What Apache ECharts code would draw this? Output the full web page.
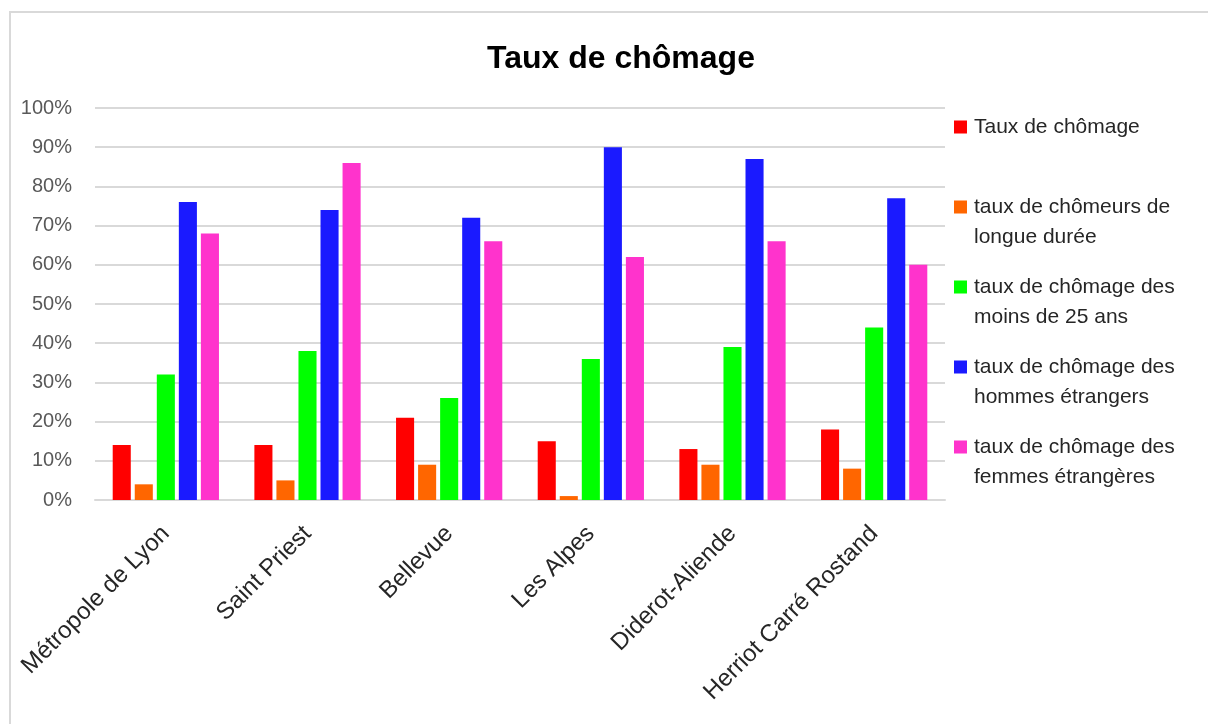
<!DOCTYPE html>
<html>
<head>
<meta charset="utf-8">
<script src="https://cdn.jsdelivr.net/npm/echarts@6/dist/echarts.min.js"></script>
<style>
html,body{margin:0;padding:0;width:1208px;height:724px;overflow:hidden;background:#fff;}
#frame{position:absolute;left:9px;top:11px;width:1400px;height:900px;border:2px solid #d9d9d9;box-sizing:border-box;}
#chart{position:absolute;left:0;top:0;width:1208px;height:724px;}
</style>
</head>
<body>
<div id="frame"></div>
<div id="chart"></div>
<script>
const categories = ['Métropole de Lyon', 'Saint Priest', 'Bellevue', 'Les Alpes', 'Diderot-Aliende', 'Herriot Carré Rostand'];
const seriesNames = ['Taux de chômage', 'taux de chômeurs de longue durée', 'taux de chômage des moins de 25 ans', 'taux de chômage des hommes étrangers', 'taux de chômage des femmes étrangères'];
const legendLabels = ['Taux de chômage\n', 'taux de chômeurs de\nlongue durée', 'taux de chômage des\nmoins de 25 ans', 'taux de chômage des\nhommes étrangers', 'taux de chômage des\nfemmes étrangères'];
const tauxChomage = [14, 14, 21, 15, 13, 18];
const longueDuree = [4, 5, 9, 1, 9, 8];
const moins25 = [32, 38, 26, 36, 39, 44];
const hommesEtrangers = [76, 74, 72, 90, 87, 77];
const femmesEtrangeres = [68, 86, 66, 62, 66, 60];
const seriesValues = [tauxChomage, longueDuree, moins25, hommesEtrangers, femmesEtrangeres];
const colors = ['#ff0000', '#ff6600', '#00ff00', '#1a1aff', '#ff33cc'];

const chart = echarts.init(document.getElementById('chart'), null, {renderer: 'canvas'});
const iconPath = 'path://M0,0h0.01v0.01h-0.01z M15,0h0.01v0.01h-0.01z M0,8.5h13v13h-13z M0,59.99h0.01v0.01h-0.01z';
const font = '"Liberation Sans", Arial, sans-serif';

chart.setOption({
  animation: false,
  backgroundColor: 'transparent',
  title: {
    text: 'Taux de chômage',
    left: 616,
    top: 38,
    textAlign: 'center',
    textStyle: {fontFamily: font, fontSize: 32, fontWeight: 'bold', color: '#000'}
  },
  legend: {
    orient: 'vertical',
    left: 949,
    top: 107,
    itemGap: 20,
    itemWidth: 15,
    itemHeight: 60,
    icon: iconPath,
    data: seriesNames,
    formatter: function (name) { return legendLabels[seriesNames.indexOf(name)]; },
    textStyle: {fontFamily: font, fontSize: 21, lineHeight: 30, color: '#262626'}
  },
  grid: {left: 95, right: 263, top: 108, bottom: 224, containLabel: false},
  xAxis: {
    type: 'category',
    data: categories,
    axisLine: {lineStyle: {color: '#d9d9d9', width: 2}},
    axisTick: {show: false},
    axisLabel: {rotate: 45, margin: 30, fontFamily: font, fontSize: 24, color: '#262626', interval: 0}
  },
  yAxis: {
    type: 'value',
    min: 0,
    max: 100,
    interval: 10,
    axisLine: {show: false},
    axisTick: {show: false},
    splitLine: {lineStyle: {color: '#d9d9d9', width: 2}},
    axisLabel: {formatter: '{value}%', margin: 23, fontFamily: font, fontSize: 20, color: '#595959'}
  },
  series: seriesNames.map((n, i) => ({
    name: n,
    type: 'bar',
    data: seriesValues[i],
    barGap: '22%',
    barCategoryGap: '25%',
    itemStyle: {color: colors[i], borderWidth: 0}
  }))
});
</script>
</body>
</html>
